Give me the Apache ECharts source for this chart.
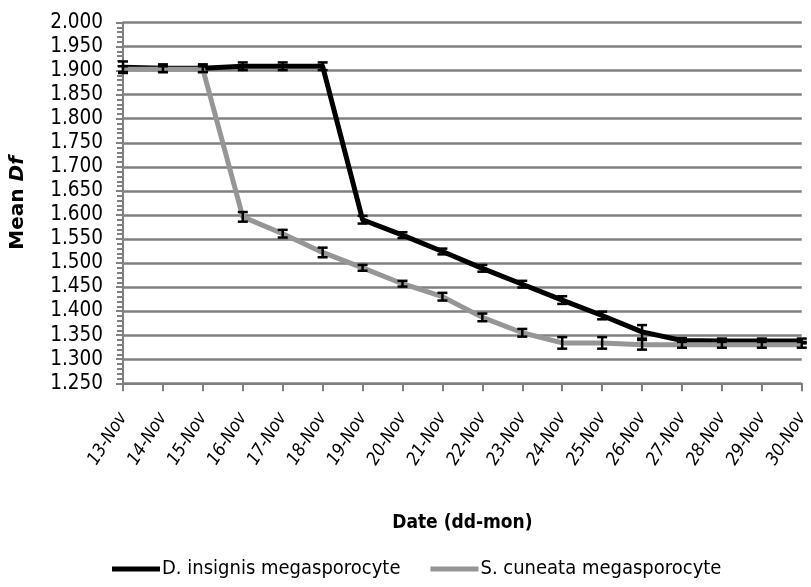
<!DOCTYPE html>
<html><head><meta charset="utf-8">
<script src="https://cdn.jsdelivr.net/npm/echarts@6/dist/echarts.min.js"></script>
<style>html,body{margin:0;padding:0;background:#fff}#c{width:811px;height:587px}</style>
</head><body><div id="c"></div>
<script>
const categories = ['13-Nov','14-Nov','15-Nov','16-Nov','17-Nov','18-Nov','19-Nov','20-Nov','21-Nov','22-Nov','23-Nov','24-Nov','25-Nov','26-Nov','27-Nov','28-Nov','29-Nov','30-Nov'];
const dInsignis = [1.907,1.905,1.905,1.909,1.909,1.909,1.590,1.558,1.524,1.489,1.456,1.423,1.391,1.357,1.339,1.338,1.338,1.338];
const dInsignisErr = [0.012,0.008,0.008,0.008,0.008,0.008,0.008,0.006,0.006,0.007,0.007,0.008,0.008,0.014,0.005,0.005,0.005,0.005];
const sCuneata = [1.903,1.903,1.903,1.596,1.561,1.522,1.490,1.457,1.430,1.387,1.355,1.334,1.334,1.330,1.330,1.330,1.330,1.330];
const sCuneataErr = [0.006,0.006,0.006,0.010,0.008,0.010,0.006,0.006,0.008,0.008,0.008,0.012,0.012,0.010,0.006,0.006,0.006,0.006];
const seriesNames = ['D. insignis megasporocyte','S. cuneata megasporocyte'];

const NARROW = '"DejaVu Sans Condensed","Liberation Sans Narrow",sans-serif';
const chart = echarts.init(document.getElementById('c'), null, {renderer:'canvas'});

function errSeries(vals, errs, z){
  return {
    type:'custom', z:z, silent:true,
    data: vals.map((v,i)=>[i, v, errs[i]]),
    renderItem: function(params, api){
      const i = api.value(0), v = api.value(1), e = api.value(2);
      const hi = api.coord([i, v+e]), lo = api.coord([i, v-e]);
      const w = 5;
      const st = {stroke:'#000', lineWidth:2.5};
      return {type:'group', children:[
        {type:'line', shape:{x1:hi[0],y1:hi[1],x2:lo[0],y2:lo[1]}, style:st},
        {type:'line', shape:{x1:hi[0]-w,y1:hi[1],x2:hi[0]+w,y2:hi[1]}, style:st},
        {type:'line', shape:{x1:lo[0]-w,y1:lo[1],x2:lo[0]+w,y2:lo[1]}, style:st}
      ]};
    }
  };
}

const axisGray = '#808080';
chart.setOption({
  animation:false,
  grid:{left:120.7, right:3.3, top:22.5, bottom:203.7, containLabel:false},
  legend:{
    data:[{name:seriesNames[0], icon:'rect'},{name:seriesNames[1], icon:'rect'}],
    left:107, top:554, itemWidth:48, itemHeight:5, itemGap:30,
    textStyle:{fontFamily:NARROW, fontSize:20, color:'#000', padding:[0,0,0,-3]}
  },
  xAxis:{
    type:'category', data:categories, boundaryGap:false,
    name:'Date (dd-mon)', nameLocation:'middle', nameGap:130,
    nameTextStyle:{fontFamily:NARROW, fontSize:19, fontWeight:'bold', color:'#000'},
    axisLine:{lineStyle:{color:axisGray, width:2}},
    axisTick:{show:true, alignWithLabel:true, length:8, lineStyle:{color:axisGray, width:2}},
    axisLabel:{rotate:58, interval:0, margin:31, fontFamily:NARROW, fontSize:18, fontStyle:'italic', color:'#000'},
    splitLine:{show:false}
  },
  yAxis:[{
    type:'value', min:1.25, max:2.0, interval:0.05,
    name:'Mean {i|Df}', nameLocation:'middle', nameGap:95, nameRotate:90,
    nameTextStyle:{fontFamily:'"DejaVu Sans",sans-serif', fontSize:20, fontWeight:'bold', color:'#000',
      rich:{i:{fontFamily:'"DejaVu Sans",sans-serif', fontSize:20, fontWeight:'bold', fontStyle:'italic', color:'#000'}}},
    axisLine:{show:true, lineStyle:{color:axisGray, width:2}},
    axisTick:{show:true, length:7, lineStyle:{color:axisGray, width:2}},
    minorTick:{show:true, splitNumber:5, length:5, lineStyle:{color:axisGray, width:2}},
    axisLabel:{margin:20, fontFamily:NARROW, fontSize:20.5, color:'#000', formatter:v=>v.toFixed(3)},
    splitLine:{show:true, lineStyle:{color:axisGray, width:2.5}}
  },{
    type:'value', min:1.25, max:2.0, interval:0.05, position:'left',
    axisLine:{show:false}, axisLabel:{show:false}, splitLine:{show:false},
    axisTick:{show:false},
    minorTick:{show:true, splitNumber:5, length:6, lineStyle:{color:axisGray, width:2}}
  }],
  series:[
    {name:seriesNames[0], type:'line', data:dInsignis, symbol:'none', z:2,
     lineStyle:{color:'#000', width:5, join:'round'}, itemStyle:{color:'#000'}},
    errSeries(dInsignis, dInsignisErr, 3),
    {name:seriesNames[1], type:'line', data:sCuneata, symbol:'none', z:4,
     lineStyle:{color:'#969696', width:5, join:'round'}, itemStyle:{color:'#969696'}},
    errSeries(sCuneata, sCuneataErr, 5)
  ]
});
</script></body></html>
